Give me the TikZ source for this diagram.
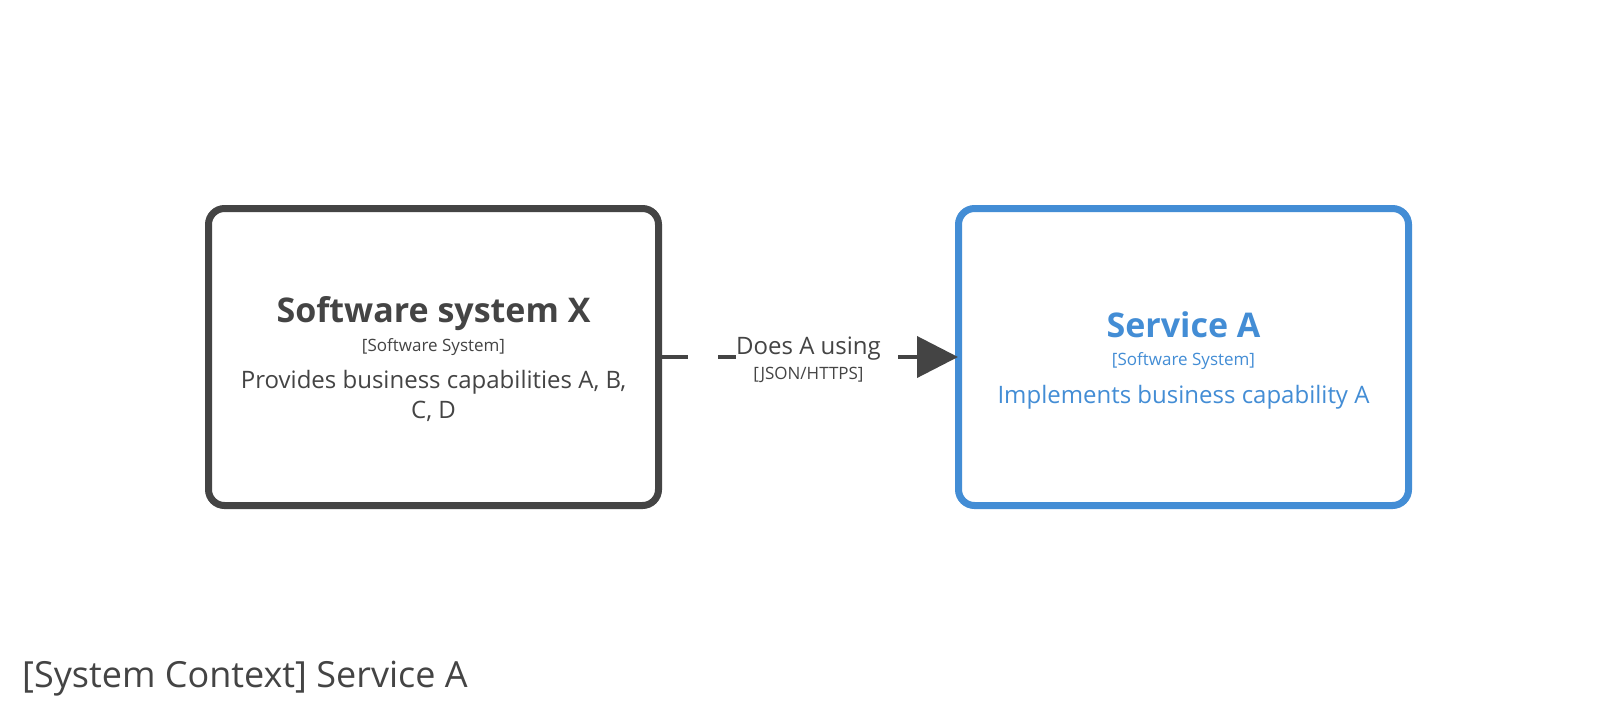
\documentclass[tikz,border=0pt]{standalone}
\usepackage{fontspec}
\setmainfont{Open Sans}
\usetikzlibrary{arrows.meta}
\definecolor{c4gray}{HTML}{444444}
\definecolor{c4blue}{HTML}{438DD5}
\begin{document}
\begin{tikzpicture}[x=1pt,y=-1pt,
  sysbox/.style={draw, line width=7pt, rounded corners=16pt,
    minimum width=450pt, minimum height=297pt, inner sep=0pt, fill=white},
  connector/.style={draw=c4gray, line width=4pt,
    dash pattern=on 30pt off 30pt, dash phase=4pt, shorten >=-3pt,
    -{Triangle[length=41pt,width=41pt]}},
  lbl/.style={midway, fill=white, inner sep=0pt, align=center, text=c4gray,
    font=\fontsize{24}{25}\selectfont, yshift=-3pt},
  titlestyle/.style={anchor=base west, inner sep=0pt, text=c4gray,
    font=\fontsize{36}{36}\selectfont}
]
\useasboundingbox[fill=white] (0,0) rectangle (1616,716);

\node[sysbox, draw=c4gray, text=c4gray] (sx) at (433.5,357) {\begin{minipage}{440pt}\centering
\vspace*{4pt}
{\fontsize{34}{34}\selectfont\bfseries Software system X\par}
{\fontsize{17}{29}\selectfont [Software System]\par}
\vspace{7.5pt}
{\fontsize{24}{29.5}\selectfont Provides business capabilities A, B,\\ C, D\par}
\end{minipage}};

\node[sysbox, draw=c4blue, text=c4blue] (sa) at (1183.5,357) {\begin{minipage}{440pt}\centering
\vspace*{7pt}
{\fontsize{34}{34}\selectfont\bfseries Service A\par}
{\fontsize{17}{28}\selectfont [Software System]\par}
\vspace{8pt}
{\fontsize{24}{30}\selectfont Implements business capability A\par}
\end{minipage}};

\draw[connector] (sx.east) -- node[lbl] (rel) {Does A using\\{\fontsize{17}{25}\selectfont [JSON/HTTPS]}} (sa.west);

\node[titlestyle] (title) at (22,687) {[System Context] Service A};
\end{tikzpicture}
\end{document}
